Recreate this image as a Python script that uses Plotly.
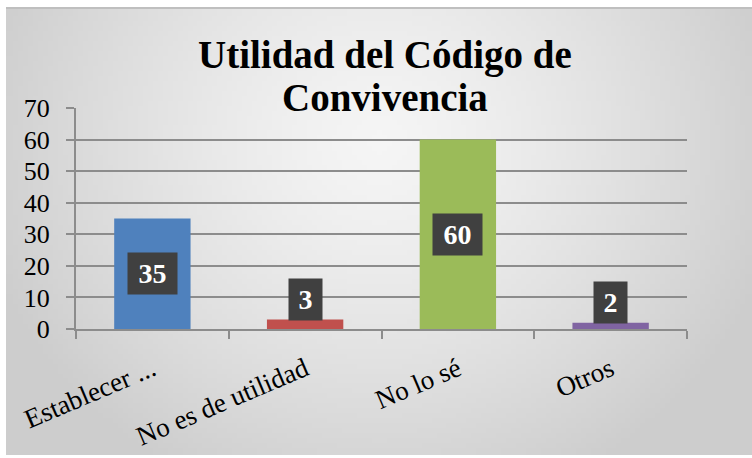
import base64
import struct
import zlib
import plotly.graph_objects as go

# ---------------- data ----------------
categories = ["Establecer ...", "No es de utilidad", "No lo sé", "Otros"]
values = [35, 3, 60, 2]
value_labels = ["35", "3", "60", "2"]
bar_colors = ["#4F81BD", "#C0504D", "#9BBB59", "#8064A2"]
y_ticks = [0, 10, 20, 30, 40, 50, 60, 70]
title_lines = ["Utilidad del Código de", "Convivencia"]

W, H = 752, 458
SERIF = "Liberation Serif, Times New Roman, serif"
GRID = "#8C8C8C"


def gradient_png(w, h):
    rows = []
    for j in range(h):
        v = (j + 0.5) / h
        row = bytearray([0])
        for i in range(w):
            u = (i + 0.5) / w
            d = ((u - 0.5) / 0.55) ** 2 + ((v - 0.3) / 0.85) ** 2
            d = min(d ** 0.5, 1.0)
            c = int(round(245 - 40 * d ** 1.3))
            row += bytes([c, c, c])
        rows.append(bytes(row))
    raw = b"".join(rows)

    def chunk(t, data):
        return (struct.pack(">I", len(data)) + t + data
                + struct.pack(">I", zlib.crc32(t + data) & 0xFFFFFFFF))

    png = (b"\x89PNG\r\n\x1a\n"
           + chunk(b"IHDR", struct.pack(">IIBBBBB", w, h, 8, 2, 0, 0, 0))
           + chunk(b"IDAT", zlib.compress(raw, 9))
           + chunk(b"IEND", b""))
    return "data:image/png;base64," + base64.b64encode(png).decode()


fig = go.Figure()
fig.add_trace(go.Bar(
    x=categories,
    y=values,
    marker=dict(color=bar_colors, line=dict(width=0)),
    hoverinfo="skip",
    showlegend=False,
))

annotations = []
for cat, v, lab in zip(categories, values, value_labels):
    if v >= 10:
        y, ya, ys = v / 2, "middle", 0
    else:
        y, ya, ys = v, "bottom", -1
    annotations.append(dict(
        x=cat, y=y, xref="x", yref="y", yanchor=ya, yshift=ys,
        text=f"<b>{lab}</b>", showarrow=False,
        font=dict(family=SERIF, size=28, color="white"),
        bgcolor="#404040", borderpad=0,
        width=17 + 16 * len(lab), height=41,
    ))

title_y = [55, 97]
for line, py in zip(title_lines, title_y):
    annotations.append(dict(
        x=385 / W, y=1 - py / H, xref="paper", yref="paper",
        xanchor="center", yanchor="middle",
        text=f"<b>{line}</b>", showarrow=False,
        font=dict(family=SERIF, size=39, color="black"),
    ))

fig.update_layout(
    width=W, height=H, autosize=False,
    margin=dict(l=0, r=0, t=0, b=0, pad=0),
    paper_bgcolor="white",
    plot_bgcolor="rgba(0,0,0,0)",
    bargap=0.5,
    annotations=annotations,
    images=[dict(
        source=gradient_png(150, 90),
        xref="paper", yref="paper",
        x=6 / W, y=1 - 9 / H,
        sizex=(W - 6) / W, sizey=(455 - 9) / H,
        xanchor="left", yanchor="top",
        sizing="stretch", layer="below",
    )],
    shapes=[dict(
        type="line", xref="paper", yref="paper",
        x0=6 / W, x1=1, y0=1 - 8 / H, y1=1 - 8 / H,
        line=dict(color="#BFBFBF", width=2),
    )],
    xaxis=dict(
        domain=[76 / W, 687 / W],
        automargin=False,
        type="category",
        tickson="boundaries",
        ticks="outside", ticklen=8, tickwidth=2, tickcolor=GRID,
        showline=True, linecolor=GRID, linewidth=2,
        showgrid=False,
        tickangle=-23,
        ticklabelstandoff=12,
        tickfont=dict(family=SERIF, size=27, color="black"),
        fixedrange=True,
    ),
    yaxis=dict(
        domain=[(H - 329) / H, (H - 108) / H],
        automargin=False,
        range=[0, 70],
        tickvals=y_ticks,
        ticks="outside", ticklen=8, tickwidth=2, tickcolor=GRID,
        showline=True, linecolor=GRID, linewidth=2,
        showgrid=True, gridcolor=GRID, gridwidth=2,
        zeroline=False,
        ticklabelstandoff=11,
        tickfont=dict(family=SERIF, size=26, color="black"),
        fixedrange=True,
    ),
)

fig.write_html(
    "out.html",
    config={"displayModeBar": False},
    post_script="document.body.style.margin='0';document.body.style.overflow='hidden';",
)
